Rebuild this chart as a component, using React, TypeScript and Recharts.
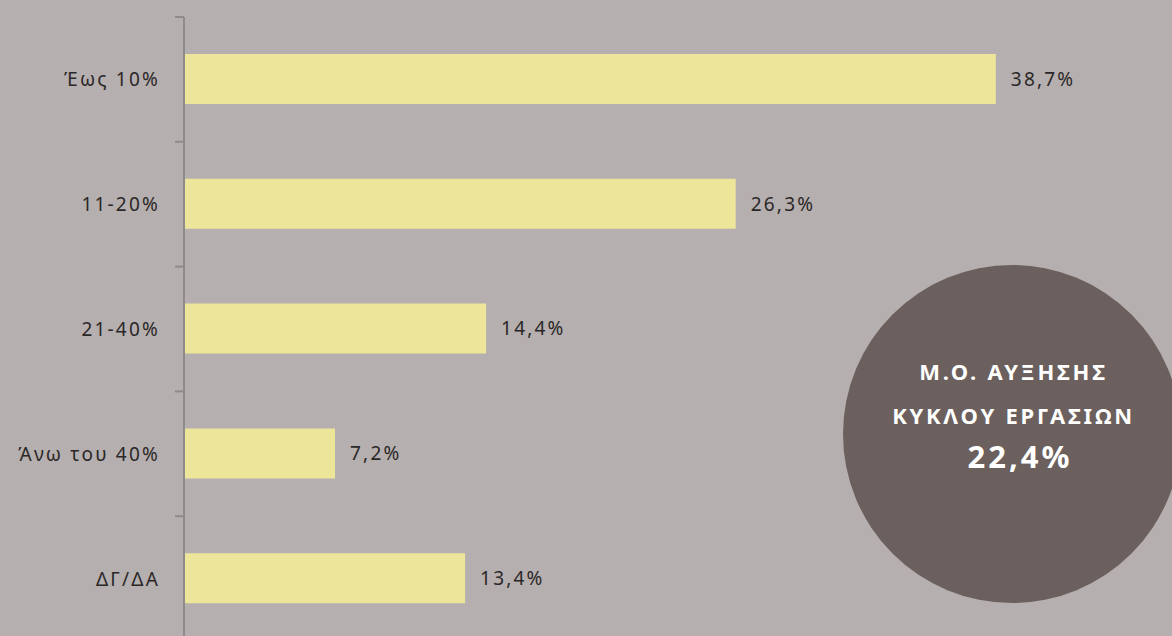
import { BarChart, Bar, XAxis, YAxis, LabelList } from "recharts";

const categories = ["Έως 10%", "11-20%", "21-40%", "Άνω του 40%", "ΔΓ/ΔΑ"];
const values = [38.7, 26.3, 14.4, 7.2, 13.4];
const badgeLines = ["Μ.Ο. ΑΥΞΗΣΗΣ", "ΚΥΚΛΟΥ ΕΡΓΑΣΙΩΝ"];
const badgeValue = "22,4%";

const data = categories.map((name, i) => ({ name, value: values[i] }));

const CHART_W = 1172;
const CHART_H = 641;
const MARGIN = { top: 17, right: 44, bottom: 0, left: 0 };
const AXIS_W = 184;
const TICK_GAP = 26;
const band = (CHART_H - MARGIN.top - MARGIN.bottom) / categories.length;
const FONT = "'Noto Sans', sans-serif";

const fmt = (v: number) => v.toFixed(1).replace(".", ",") + "%";

function CategoryTick(props: any) {
  const { x, y, payload } = props;
  const axisX = x + TICK_GAP;
  return (
    <g>
      <line
        x1={axisX - 9}
        x2={axisX}
        y1={y - band / 2}
        y2={y - band / 2}
        stroke="#8d8b8b"
        strokeWidth={2}
      />
      <text
        x={x}
        y={y}
        dx={2}
        dy={7}
        textAnchor="end"
        fill="#2b2727"
        fontSize={19}
        fontFamily={FONT}
        letterSpacing={2.2}
      >
        {payload.value}
      </text>
    </g>
  );
}

export default function App() {
  return (
    <div
      style={{
        position: "absolute",
        left: 0,
        top: 0,
        width: CHART_W,
        height: 636,
        overflow: "hidden",
        background: "#b5afaf",
      }}
    >
      <BarChart
        width={CHART_W}
        height={CHART_H}
        data={data}
        layout="vertical"
        margin={MARGIN}
        barCategoryGap={0}
      >
        <XAxis type="number" domain={[0, 45]} hide />
        <YAxis
          type="category"
          dataKey="name"
          width={AXIS_W}
          tickLine={false}
          tickSize={0}
          tickMargin={TICK_GAP}
          axisLine={{ stroke: "#8d8b8b", strokeWidth: 2 }}
          tick={<CategoryTick />}
        />
        <Bar dataKey="value" fill="#ede59a" barSize={50} isAnimationActive={false}>
          <LabelList
            dataKey="value"
            position="right"
            offset={15}
            formatter={(v: any) => fmt(Number(v))}
            fill="#2b2727"
            fontSize={19}
            fontFamily={FONT}
            letterSpacing={2.2}
          />
        </Bar>
      </BarChart>
      <div
        style={{
          position: "absolute",
          left: 843,
          top: 265,
          width: 338,
          height: 338,
          borderRadius: "50%",
          background: "#6b605d",
          color: "#ffffff",
          fontFamily: FONT,
          fontWeight: 700,
          textAlign: "center",
        }}
      >
        <div style={{ position: "absolute", top: 91, width: "100%", fontSize: 22, letterSpacing: 2.8, paddingLeft: 3, boxSizing: "border-box" }}>
          {badgeLines[0]}
        </div>
        <div style={{ position: "absolute", top: 135, width: "100%", fontSize: 22, letterSpacing: 2.8, paddingLeft: 3, boxSizing: "border-box" }}>
          {badgeLines[1]}
        </div>
        <div style={{ position: "absolute", top: 170, width: "100%", fontSize: 31, letterSpacing: 3, paddingLeft: 16, boxSizing: "border-box" }}>
          {badgeValue}
        </div>
      </div>
    </div>
  );
}
